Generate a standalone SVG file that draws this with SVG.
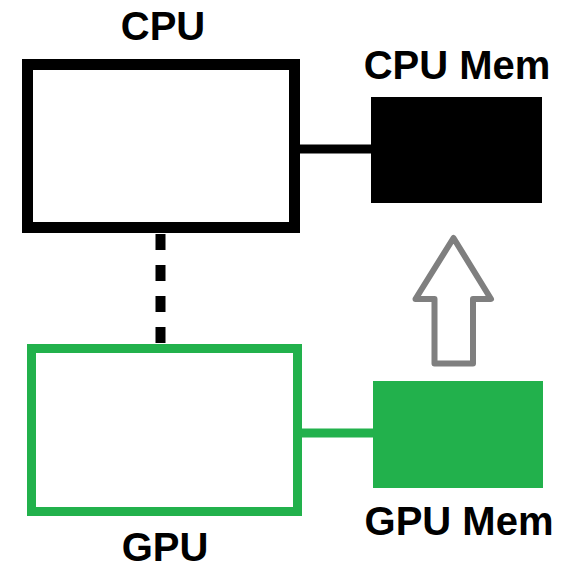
<svg xmlns="http://www.w3.org/2000/svg" width="577" height="568" viewBox="0 0 577 568">
  <style>
    .label { font-family: "Liberation Sans", Arial, sans-serif; font-weight: bold; font-size: 40px; fill: #000; text-anchor: middle; }
    .cpu { fill: #fff; stroke: #000; stroke-width: 11; }
    .gpu { fill: #fff; stroke: #22B14C; stroke-width: 9; }
    .link-cpu { stroke: #000; stroke-width: 9; fill: none; }
    .link-gpu { stroke: #22B14C; stroke-width: 9; fill: none; }
    .bus { stroke: #000; stroke-width: 10; fill: none; stroke-dasharray: 16 15; }
    .copy { fill: #fff; stroke: #7F7F7F; stroke-width: 6; stroke-linejoin: round; }
  </style>
  <rect width="577" height="568" fill="#fff"/>

  <!-- connectors -->
  <g id="connectors">
    <line class="link-cpu" x1="300" y1="149" x2="372" y2="149"/>
    <line class="link-gpu" x1="302" y1="433" x2="374" y2="433"/>
    <line class="bus" x1="160.5" y1="234" x2="160.5" y2="344"/>
    <polygon class="copy" points="453.5,238 491,299 473,299 473,363.5 434.5,363.5 434.5,299 415.5,299"/>
  </g>

  <g id="cpu">
    <rect class="cpu" x="27.5" y="64.5" width="267" height="163"/>
    <text class="label" x="163" y="40">CPU</text>
  </g>

  <g id="cpu-mem">
    <rect x="371" y="97" width="171" height="106" fill="#000"/>
    <text class="label" x="457" y="79">CPU Mem</text>
  </g>

  <g id="gpu">
    <rect class="gpu" x="31.5" y="348.5" width="266" height="163"/>
    <text class="label" x="165" y="561">GPU</text>
  </g>

  <g id="gpu-mem">
    <rect x="373" y="381" width="170" height="107" fill="#22B14C"/>
    <text class="label" x="459" y="535">GPU Mem</text>
  </g>
</svg>
